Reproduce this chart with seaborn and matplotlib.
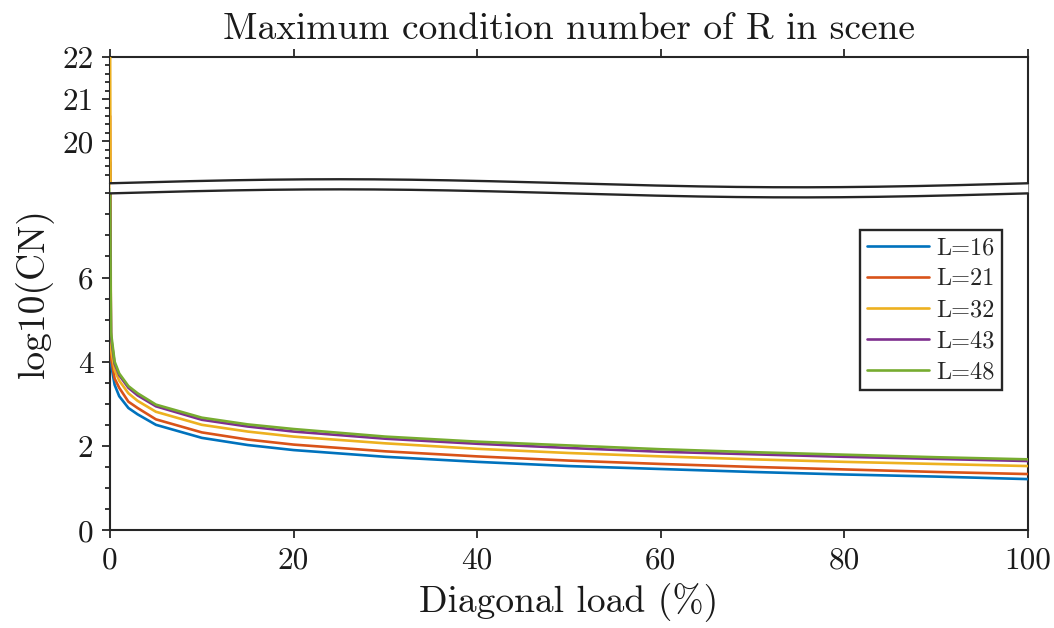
import numpy as np
import pandas as pd
import matplotlib
matplotlib.use("Agg")
import matplotlib.pyplot as plt
from matplotlib.lines import Line2D
import seaborn as sns

# ---------------- data ----------------
x_load = [0, 0.1, 0.5, 1, 2, 3, 5, 10, 15, 20, 30, 40, 50, 60, 70, 80, 90, 100]
cn_L16 = [19.5, 3.95, 3.45, 3.18, 2.90, 2.75, 2.50, 2.19, 2.02, 1.90, 1.74, 1.62, 1.52, 1.45, 1.38, 1.32, 1.27, 1.21]
cn_L21 = [20.6, 4.10, 3.60, 3.38, 3.05, 2.90, 2.63, 2.32, 2.15, 2.03, 1.87, 1.75, 1.65, 1.57, 1.50, 1.44, 1.38, 1.33]
cn_L32 = [22.6, 4.30, 3.80, 3.55, 3.25, 3.07, 2.81, 2.50, 2.34, 2.22, 2.06, 1.93, 1.83, 1.75, 1.68, 1.62, 1.57, 1.52]
cn_L43 = [12.0, 4.60, 3.95, 3.68, 3.38, 3.20, 2.94, 2.62, 2.46, 2.34, 2.17, 2.05, 1.95, 1.86, 1.80, 1.74, 1.69, 1.64]
cn_L48 = [12.0, 4.70, 4.00, 3.72, 3.42, 3.25, 2.98, 2.67, 2.51, 2.40, 2.22, 2.10, 2.01, 1.92, 1.85, 1.79, 1.73, 1.68]
series_labels = ["L=16", "L=21", "L=32", "L=43", "L=48"]
series_values = [cn_L16, cn_L21, cn_L32, cn_L43, cn_L48]
colors = ["#0072BD", "#D95319", "#EDB120", "#7E2F8E", "#77AC30"]

x_ticks = [0, 20, 40, 60, 80, 100]
y_ticks = [0, 2, 4, 6, 20, 21, 22]
y_ticklabels = ["0", "2", "4", "6", "20", "21", "22"]

# ---------------- style ----------------
sns.set_style("ticks")
plt.rcParams.update({
    "font.family": "cmr10",
    "axes.formatter.use_mathtext": True,
    "mathtext.fontset": "cm",
    "axes.unicode_minus": False,
})
axis_col = "#262626"
text_col = "#1a1a1a"

fig = plt.figure(figsize=(10.54, 6.28), dpi=100)
ax = fig.add_axes([0.1044, 0.156, 0.8709, 0.7532])

# broken y-axis via a piecewise function scale
LOW_TOP, HIGH_BOT, GAP = 8.0, 19.0, 0.24


def fwd(y):
    y = np.asarray(y, dtype=float)
    return np.where(y <= LOW_TOP, y,
                    np.where(y >= HIGH_BOT, y - HIGH_BOT + LOW_TOP + GAP,
                             LOW_TOP + (y - LOW_TOP) * GAP / (HIGH_BOT - LOW_TOP)))


def inv(z):
    z = np.asarray(z, dtype=float)
    return np.where(z <= LOW_TOP, z,
                    np.where(z >= LOW_TOP + GAP, z - LOW_TOP - GAP + HIGH_BOT,
                             LOW_TOP + (z - LOW_TOP) * (HIGH_BOT - LOW_TOP) / GAP))


ax.set_yscale("function", functions=(fwd, inv))

df = pd.concat([
    pd.DataFrame({"x": x_load, "y": vals, "L": lab})
    for lab, vals in zip(series_labels, series_values)
], ignore_index=True)

sns.lineplot(data=df, x="x", y="y", hue="L", hue_order=series_labels,
             palette=dict(zip(series_labels, colors)), linewidth=1.9,
             estimator=None, sort=False, legend=False, ax=ax, zorder=2.6)

ax.set_xlim(0, 100)
ax.set_ylim(0, 22)

# ticks
ax.set_xticks(x_ticks)
ax.set_xticklabels([str(v) for v in x_ticks])
ax.set_yticks(y_ticks)
ax.set_yticklabels(y_ticklabels)
minor_y = [v for v in np.arange(0, 8.01, 0.5) if v not in y_ticks] + \
          [round(v, 1) for v in np.arange(19.2, 21.99, 0.2) if round(v, 1) not in y_ticks]
ax.set_yticks(minor_y, minor=True)
ax.tick_params(axis="both", which="major", direction="out", length=6, width=1.3,
               color=axis_col, labelsize=22.5, labelcolor=text_col, pad=6)
ax.tick_params(axis="y", which="minor", direction="out", length=3.5, width=1.3, color=axis_col)
ax.tick_params(axis="x", top=True)
for s in ax.spines.values():
    s.set_color(axis_col)
    s.set_linewidth(1.5)

# break marks (wavy)
span = float(fwd(22) - fwd(0))
lo = float(fwd(LOW_TOP)) / span
hi = float(fwd(HIGH_BOT)) / span
t = np.linspace(0, 1, 300)
wave = 0.0085 * np.sin(2 * np.pi * t)
ax.fill_between(t, lo + wave, hi + wave, transform=ax.transAxes, color="white",
                zorder=2.7, clip_on=False, linewidth=0)
ax.plot(t, lo + wave, color=axis_col, lw=1.7, transform=ax.transAxes, zorder=3, clip_on=False)
ax.plot(t, hi + wave, color=axis_col, lw=1.7, transform=ax.transAxes, zorder=3, clip_on=False)

# labels
ax.set_title("Maximum condition number of R in scene", fontsize=27, color=text_col, pad=13)
ax.set_xlabel("Diagonal load (%)", fontsize=27, color=text_col, labelpad=6)
ax.set_ylabel("log10(CN)", fontsize=27, color=text_col, labelpad=6)

handles = [Line2D([0], [0], color=c, lw=1.9) for c in colors]
leg = ax.legend(handles, series_labels, loc="upper right", bbox_to_anchor=(0.9717, 0.634),
                fontsize=17.5, frameon=True, fancybox=False, edgecolor=axis_col,
                handlelength=2.55, borderpad=0.3, labelspacing=0.36, handletextpad=0.3,
                borderaxespad=0)
leg.get_frame().set_linewidth(1.7)
leg.get_frame().set_alpha(1)
leg.set_zorder(5)

fig.savefig("out.png", dpi=100)
